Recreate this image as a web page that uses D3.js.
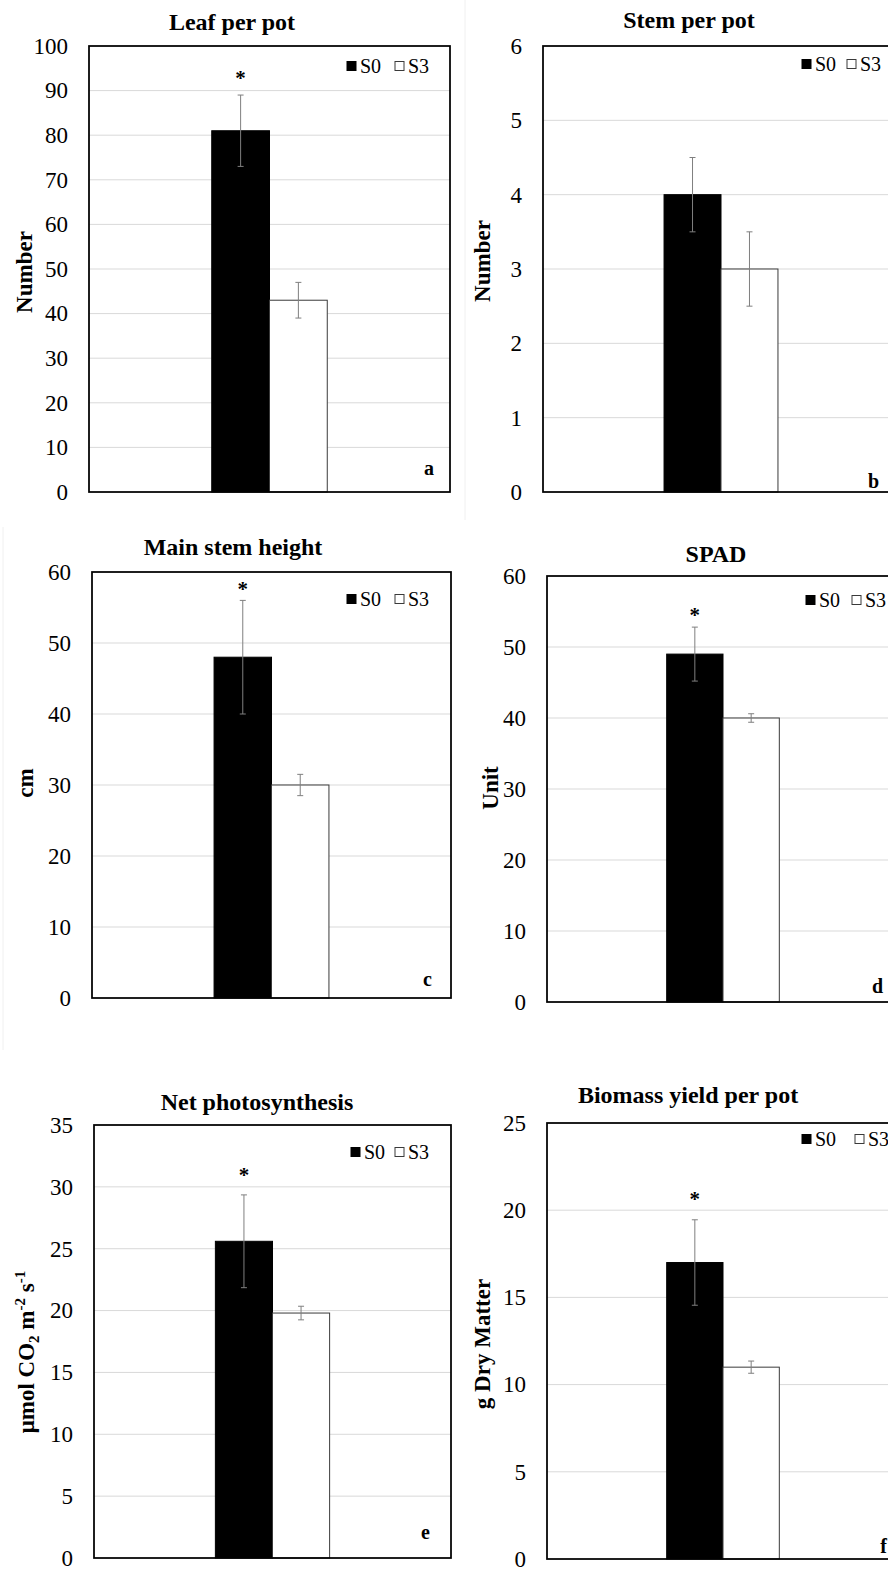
<!DOCTYPE html>
<html>
<head>
<meta charset="utf-8">
<script src="https://cdn.jsdelivr.net/npm/d3@7/dist/d3.min.js"></script>
<style>
    body { margin: 0; background: #fff; }
    svg { display: block; }
    svg text { font-family: "Liberation Serif", "Times New Roman", serif !important; }
</style>
</head>
<body>
<div id="chartDiv"></div>
<script>
'use strict';

// Values, one entry per panel (a..f)
const panelLetters = ['a', 'b', 'c', 'd', 'e', 'f'];
const panelTitles = ['Leaf per pot', 'Stem per pot', 'Main stem height', 'SPAD', 'Net photosynthesis', 'Biomass yield per pot'];
const yMaxValues = [100, 6, 60, 60, 35, 25];
const yTickSteps = [10, 1, 10, 10, 5, 5];
const seriesNames = ['S0', 'S3'];
const s0Means = [81, 4, 48, 49, 25.6, 17];
const s0Errors = [8, 0.5, 8, 3.8, 3.75, 2.45];
const s3Means = [43, 3, 30, 40, 19.8, 11];
const s3Errors = [4, 0.5, 1.5, 0.6, 0.55, 0.35];
const significant = [true, false, true, true, true, true];

// y axis titles, split in [text, 'sub'|'sup'|''] pieces
const yAxisTitles = [
    [['Number', '']],
    [['Number', '']],
    [['cm', '']],
    [['Unit', '']],
    [['μmol CO', ''], ['2', 'sub'], [' m', ''], ['-2', 'sup'], [' s', ''], ['-1', 'sup']],
    [['g Dry Matter', '']],
];

// Where every panel sits on the page (frame box + text anchors)
const panelLayout = [
    { left: 89, top: 46, right: 450, bottom: 492, titleX: 232, titleY: 30, yTitleX: 32, yTitleY: 272, legendX: 347, legendX2: 395, legendY: 66, letterX: 434, letterY: 475, starGap: 21 },
    { left: 543, top: 46, right: 899, bottom: 492, titleX: 689, titleY: 28, yTitleX: 490, yTitleY: 261, legendX: 802, legendX2: 847, legendY: 64, letterX: 879, letterY: 488, starGap: 20 },
    { left: 92, top: 572, right: 451, bottom: 998, titleX: 233, titleY: 555, yTitleX: 33, yTitleY: 783, legendX: 347, legendX2: 395, legendY: 599, letterX: 432, letterY: 986, starGap: 15 },
    { left: 547, top: 576, right: 899, bottom: 1002, titleX: 716, titleY: 562, yTitleX: 498, yTitleY: 788, legendX: 806, legendX2: 852, legendY: 600, letterX: 883, letterY: 993, starGap: 16 },
    { left: 94, top: 1125, right: 451, bottom: 1558, titleX: 257, titleY: 1110, yTitleX: 34, yTitleY: 1352, legendX: 351, legendX2: 395, legendY: 1152, letterX: 430, letterY: 1539, starGap: 24 },
    { left: 547, top: 1123, right: 899, bottom: 1559, titleX: 688, titleY: 1103, yTitleX: 490, yTitleY: 1344, legendX: 802, legendX2: 855, legendY: 1139, letterX: 887, letterY: 1553, starGap: 25 },
];

const barOuterPadding = 1.0625;
const serifFont = '"Liberation Serif", "Times New Roman", serif';

function main() {
    let svg = d3.select('#chartDiv')
        .append('svg')
        .attr('width', 888)
        .attr('height', 1569)
        .attr('font-family', serifFont);

    // faint outlines of the original chart areas
    svg.append('line').attr('x1', 465).attr('x2', 465).attr('y1', 0).attr('y2', 520)
        .attr('stroke', '#f0f0f0');
    svg.append('line').attr('x1', 3).attr('x2', 3).attr('y1', 527).attr('y2', 1050)
        .attr('stroke', '#f0f0f0');

    panelLetters.forEach((letter, i) => drawPanel(svg, i));
}

/*** Draws one bar panel with its frame, grid, bars, error bars and labels ***/
function drawPanel(svg, i) {
    const lay = panelLayout[i];
    let g = svg.append('g').classed('panel', true);

    let y = d3.scaleLinear()
        .domain([0, yMaxValues[i]])
        .range([lay.bottom, lay.top]);

    let x = d3.scaleBand()
        .domain([panelTitles[i]])
        .range([lay.left, lay.right])
        .paddingInner(0)
        .paddingOuter(barOuterPadding);

    let xSeries = d3.scaleBand()
        .domain(seriesNames)
        .range([0, x.bandwidth()]);

    let ticks = d3.range(0, yMaxValues[i] + yTickSteps[i] / 2, yTickSteps[i]);

    // gridlines
    g.selectAll('.grid')
        .data(ticks.filter(t => t > 0 && t < yMaxValues[i]))
        .enter()
        .append('line')
        .attr('x1', lay.left)
        .attr('x2', lay.right)
        .attr('y1', d => y(d))
        .attr('y2', d => y(d))
        .attr('stroke', '#d9d9d9')
        .attr('stroke-width', 1);

    // y axis (labels only, frame drawn separately)
    let axis = g.append('g')
        .attr('transform', `translate(${lay.left}, 0)`)
        .call(d3.axisLeft(y).tickValues(ticks).tickSize(0).tickPadding(21).tickFormat(d3.format('d')));
    axis.attr('font-family', serifFont).attr('font-size', 23);
    axis.select('.domain').remove();
    axis.selectAll('text')
        .style('font-family', serifFont)
        .style('font-size', '23px')
        .attr('fill', '#000');

    const means = [s0Means[i], s3Means[i]];
    const errors = [s0Errors[i], s3Errors[i]];
    let bars = seriesNames.map((name, k) => ({ name: name, mean: means[k], err: errors[k] }));

    // bars
    g.selectAll('.bar')
        .data(bars)
        .enter()
        .append('rect')
        .attr('x', d => x(panelTitles[i]) + xSeries(d.name))
        .attr('width', xSeries.bandwidth())
        .attr('y', d => y(d.mean))
        .attr('height', d => y(0) - y(d.mean))
        .attr('fill', d => d.name === 'S0' ? '#000' : '#fff')
        .attr('stroke', d => d.name === 'S0' ? '#000' : '#3a3a3a')
        .attr('stroke-width', 1);

    // error bars
    let errG = g.selectAll('.err')
        .data(bars)
        .enter()
        .append('g')
        .attr('stroke', '#7f7f7f')
        .attr('stroke-width', 1);
    const cx = d => x(panelTitles[i]) + xSeries(d.name) + xSeries.bandwidth() / 2;
    errG.append('line')
        .attr('x1', cx).attr('x2', cx)
        .attr('y1', d => y(d.mean + d.err))
        .attr('y2', d => y(d.mean - d.err));
    [1, -1].forEach(sign => {
        errG.append('line')
            .attr('x1', d => cx(d) - 3).attr('x2', d => cx(d) + 3)
            .attr('y1', d => y(d.mean + sign * d.err))
            .attr('y2', d => y(d.mean + sign * d.err));
    });

    // significance mark over S0
    if (significant[i]) {
        g.append('text')
            .attr('x', cx(bars[0]))
            .attr('y', y(bars[0].mean + bars[0].err) - lay.starGap + 11)
            .attr('text-anchor', 'middle')
            .attr('font-weight', 'bold')
            .attr('font-size', 21)
            .text('*');
    }

    // frame
    g.append('rect')
        .attr('x', lay.left)
        .attr('y', lay.top)
        .attr('width', lay.right - lay.left)
        .attr('height', lay.bottom - lay.top)
        .attr('fill', 'none')
        .attr('stroke', '#000')
        .attr('stroke-width', 1.75);

    // title
    g.append('text')
        .attr('x', lay.titleX)
        .attr('y', lay.titleY)
        .attr('text-anchor', 'middle')
        .attr('font-weight', 'bold')
        .attr('font-size', 24)
        .text(panelTitles[i]);

    // y axis title
    let yt = g.append('text')
        .attr('transform', `translate(${lay.yTitleX}, ${lay.yTitleY}) rotate(-90)`)
        .attr('text-anchor', 'middle')
        .attr('font-weight', 'bold')
        .attr('font-size', 23);
    let shift = 0;
    yAxisTitles[i].forEach(([txt, kind]) => {
        let target = kind === 'sub' ? 5 : kind === 'sup' ? -9 : 0;
        yt.append('tspan')
            .attr('dy', target - shift)
            .attr('font-size', kind ? 15 : 23)
            .text(txt);
        shift = target;
    });

    // legend
    [lay.legendX, lay.legendX2].forEach((lx, k) => {
        g.append('rect')
            .attr('x', lx)
            .attr('y', lay.legendY - 4.5)
            .attr('width', 9)
            .attr('height', 9)
            .attr('fill', k === 0 ? '#000' : '#fff')
            .attr('stroke', k === 0 ? '#000' : '#3a3a3a')
            .attr('stroke-width', 1);
        g.append('text')
            .attr('x', lx + 13)
            .attr('y', lay.legendY)
            .attr('dy', '0.35em')
            .attr('font-size', 20)
            .text(seriesNames[k]);
    });

    // panel letter
    g.append('text')
        .attr('x', lay.letterX)
        .attr('y', lay.letterY)
        .attr('text-anchor', 'end')
        .attr('font-weight', 'bold')
        .attr('font-size', 20)
        .text(panelLetters[i]);
}

main();
</script>
</body>
</html>
